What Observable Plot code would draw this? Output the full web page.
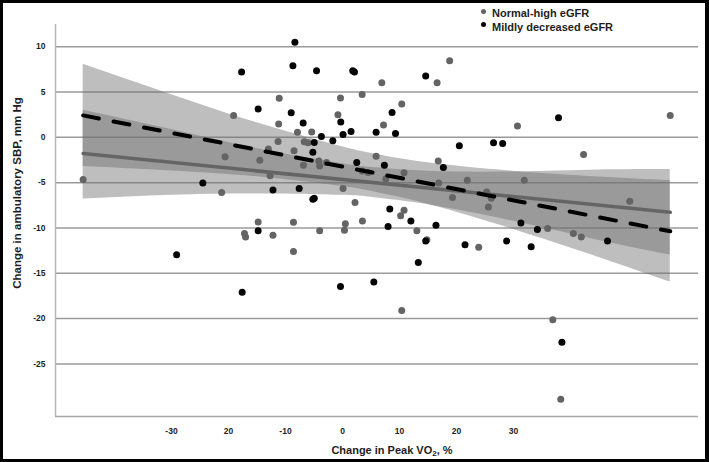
<!DOCTYPE html>
<html><head><meta charset="utf-8">
<script src="https://cdn.jsdelivr.net/npm/d3@7"></script>
<script src="https://cdn.jsdelivr.net/npm/@observablehq/plot@0.6"></script>
<style>
html,body{margin:0;padding:0;background:#fff;}
#frame{position:relative;width:709px;height:462px;overflow:hidden;font-family:"Liberation Sans",Arial,sans-serif;background:#fff;}
#frame svg{position:absolute;left:0;top:0;}
#border{position:absolute;left:0;top:0;width:709px;height:462px;box-sizing:border-box;border:3px solid #000;border-right-width:4px;pointer-events:none;}
.lab{position:absolute;font-weight:bold;color:#1e1e1e;white-space:nowrap;font-size:11px;line-height:14px;}
.dot{position:absolute;width:5px;height:5px;border-radius:50%;}
</style></head><body>
<div id="frame">
  <div id="border"></div>
</div>
<script>
// ---- data ----
const normalX = [-45.5,-21.2,-20.6,-19.1,-17.2,-17.0,-14.8,-14.5,-13.0,-12.7,-12.2,-11.1,-11.2,-11.3,-8.5,-8.6,-8.6,-7.9,-6.85,-6.7,-6.05,-5.4,-4.15,-4.0,-4.0,-2.8,-0.8,-0.35,0.1,0.35,0.5,2.2,3.45,3.5,3.45,4.5,5.9,6.9,7.2,7.6,10.2,10.4,10.4,10.8,10.8,13.05,14.8,16.6,16.8,16.9,18.8,19.3,21.9,23.9,25.3,25.6,26.1,30.7,31.9,36.0,36.9,38.3,40.5,41.9,42.3,50.4,57.5];
const normalY = [-4.65,-6.09,-2.15,2.42,-10.6,-11.0,-9.34,-2.52,-1.3,-4.25,-10.8,4.3,1.46,-0.45,-1.49,-9.37,-12.6,0.57,-3.07,-0.5,-0.6,0.6,-2.6,-10.3,-3.15,-2.78,2.49,4.33,-5.65,-10.26,-9.52,-7.2,4.74,-9.23,-3.7,-3.88,-2.08,6.03,1.35,-4.59,-8.64,-19.1,3.67,-8.05,-3.92,-10.3,-11.3,6.03,-2.6,-5.03,8.46,-6.65,-4.73,-12.14,-6.02,-7.68,-6.72,1.24,-4.73,-10.07,-20.13,-28.9,-10.6,-11.0,-1.89,-7.05,2.42];
const mildX = [-29.1,-24.5,-17.7,-17.6,-14.8,-14.8,-12.2,-9.0,-8.7,-8.35,-7.6,-6.9,-5.2,-5.2,-4.95,-4.95,-4.55,-3.7,-1.7,-0.3,-0.35,0.1,1.5,1.8,2.1,2.5,5.5,5.9,7.35,8.0,8.3,8.7,9.3,12.0,13.3,14.6,14.6,16.4,17.7,20.5,21.5,26.5,28.1,28.8,31.3,33.1,34.2,37.9,38.5,46.5];
const mildY = [-12.95,-5.03,7.2,-17.1,3.12,-10.3,-5.8,2.7,7.9,10.5,-5.65,1.57,-1.64,-6.83,-0.57,-6.72,7.36,0.1,-0.38,1.68,-16.45,0.32,0.65,7.35,7.2,-2.78,-15.97,0.57,-3.07,-9.85,-7.9,2.75,0.43,-9.23,-13.8,6.77,-11.44,-9.7,-3.33,-0.94,-11.85,-0.6,-0.68,-11.44,-9.45,-12.06,-10.18,2.16,-22.6,-11.44];

// regression lines (end points)
const lineX = [-45.5, 57.5];
const normalLineY = [-1.78, -8.27];
const mildLineY = [2.42, -10.37];

// confidence bands (edges read at these x positions)
const bandX  = [-45.5, -30, -15, 0, 6, 15, 30, 45, 57.5];
const mildLo = [-3.22, -3.7, -4.35, -5.42, -6.08, -7.38, -10.16, -13.25, -15.97];
const mildHi = [8.06, 4.7, 1.61, -1.04, -1.88, -2.8, -3.74, -4.37, -4.77];
const normLo = [-6.8, -6.39, -6.24, -6.4, -6.7, -7.44, -9.26, -11.37, -12.99];
const normHi = [3.0, 0.87, -1.22, -2.9, -3.36, -3.74, -3.82, -3.61, -3.55];

// ticks
const xTicks = [-30, -20, -10, 0, 10, 20, 30];
const xTickLabels = ["-30", "20", "-10", "0", "10", "20", "30"];
const yTicks = [-25, -20, -15, -10, -5, 0, 5, 10];
const yTickLabels = ["-25", "-20", "-15", "-10", "-5", "0", "5", "10"];

const seriesNames = ["Normal-high eGFR", "Mildly decreased eGFR"];
const seriesColors = ["#646464", "#050505"];

// ---- build tables ----
const pts = (xs, ys) => xs.map((x, i) => ({x, y: ys[i]}));
const band = (lo, hi) => bandX.map((x, i) => ({x, lo: lo[i], hi: hi[i]}));

const xDomain = [-50.35, 62.46];
const yDomain = [-30.8, 12.45];

const chart = Plot.plot({
  width: 709, height: 462,
  marginLeft: 55, marginRight: 11, marginTop: 24, marginBottom: 46,
  x: {domain: xDomain},
  y: {domain: yDomain},
  style: {fontFamily: "Liberation Sans, Arial, sans-serif", background: "transparent", color: "#1e1e1e"},
  marks: [
    Plot.ruleY(yTicks, {stroke: "#9a9a9a", strokeWidth: 1.5}),
    Plot.ruleX([xDomain[0]], {stroke: "#b8b8b8", strokeWidth: 1.5}),
    Plot.ruleY([yDomain[0]], {stroke: "#a8a8a8", strokeWidth: 1.5}),
    Plot.areaY(band(normLo, normHi), {x: "x", y1: "lo", y2: "hi", fill: "#6e6e6e", fillOpacity: 0.45, curve: "natural"}),
    Plot.areaY(band(mildLo, mildHi), {x: "x", y1: "lo", y2: "hi", fill: "#6e6e6e", fillOpacity: 0.45, curve: "natural"}),
    Plot.dot(pts(normalX, normalY), {x: "x", y: "y", r: 3.5, fill: seriesColors[0], stroke: null}),
    Plot.dot(pts(mildX, mildY), {x: "x", y: "y", r: 3.5, fill: seriesColors[1], stroke: null}),
    Plot.line(pts(lineX, normalLineY), {x: "x", y: "y", stroke: "#656565", strokeWidth: 3.6}),
    Plot.line(pts(lineX, mildLineY), {x: "x", y: "y", stroke: "#000", strokeWidth: 4, strokeDasharray: "16,15"}),
    Plot.axisX(xTicks, {tickSize: 0, tickPadding: 11, fontSize: 8.5, fontWeight: "bold",
      tickFormat: d => xTickLabels[xTicks.indexOf(d)], label: null}),
    Plot.axisY(yTicks, {tickSize: 0, tickPadding: 10, fontSize: 8.5, fontWeight: "bold",
      tickFormat: d => yTickLabels[yTicks.indexOf(d)], label: null})
  ]
});

const frame = document.getElementById("frame");
frame.insertBefore(chart, frame.firstChild);

// axis titles
const yl = document.createElement("div");
yl.className = "lab";
yl.style.fontSize = "11.5px";
yl.textContent = "Change in ambulatory SBP, mm Hg";
yl.style.left = "17px"; yl.style.top = "193px";
yl.style.transform = "translate(-50%,-50%) rotate(-90deg)";
frame.appendChild(yl);

const xl = document.createElement("div");
xl.className = "lab";
xl.innerHTML = "Change in Peak VO<sub style=\"font-size:8px;vertical-align:-2px;line-height:0\">2</sub>, %";
xl.style.left = "392px"; xl.style.top = "442.5px";
xl.style.transform = "translateX(-50%)";
frame.appendChild(xl);

// legend
seriesNames.forEach((name, i) => {
  const d = document.createElement("div");
  d.className = "dot";
  d.style.background = seriesColors[i];
  d.style.left = (483 - 2.5) + "px";
  d.style.top = (11 + i * 13 - 2.5) + "px";
  frame.appendChild(d);
  const t = document.createElement("div");
  t.className = "lab";
  t.textContent = name;
  t.style.left = "492px";
  t.style.top = (5.9 + i * 14) + "px";
  frame.appendChild(t);
});
</script>
</body></html>
